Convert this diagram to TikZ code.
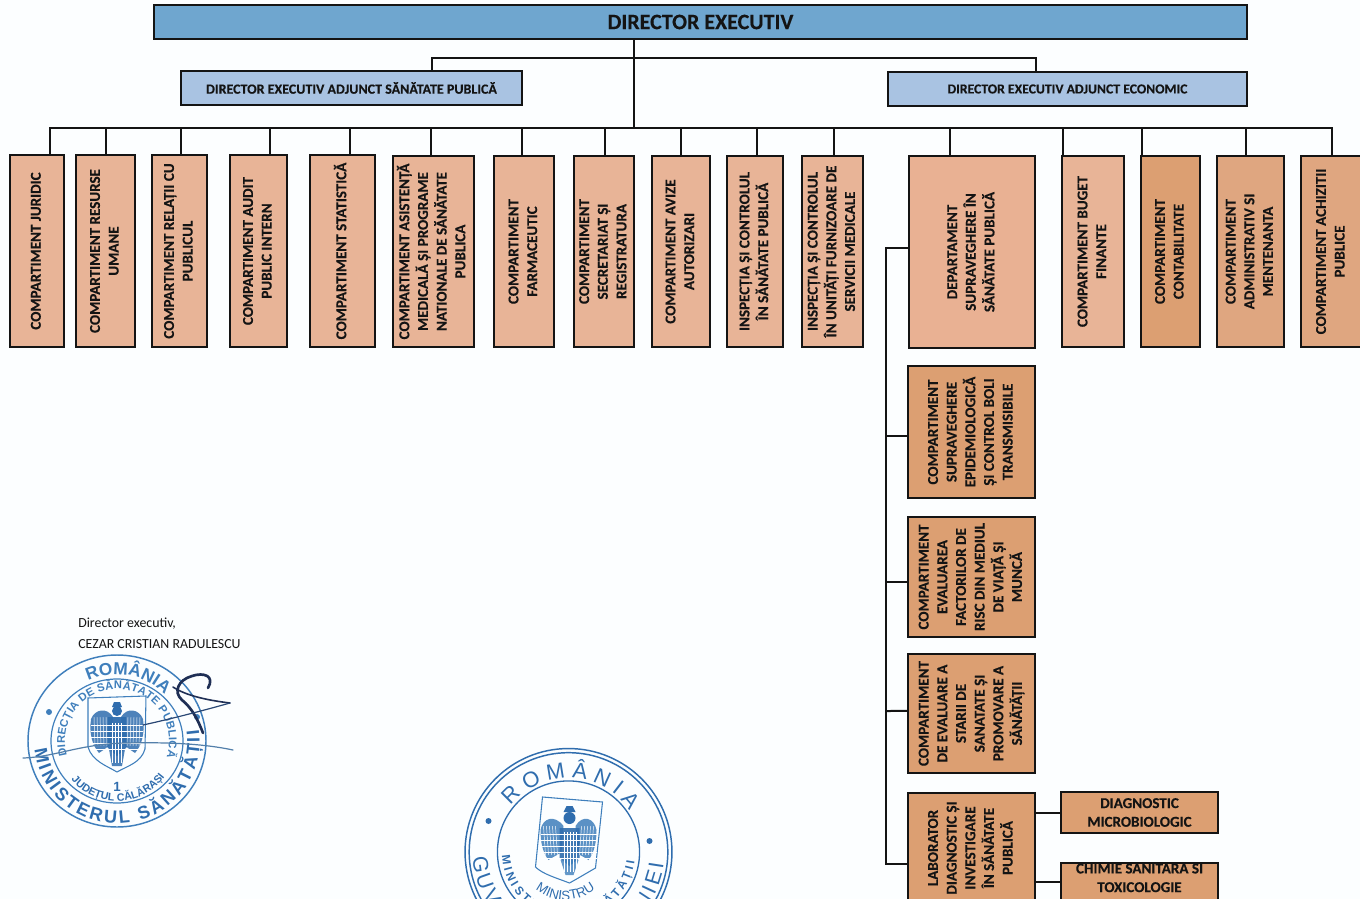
\documentclass[tikz,border=0pt]{standalone}
\usepackage{graphicx}
\usepackage{fontspec}
\setmainfont[BoldFeatures={FakeBold=0.25}]{Carlito}
\newfontfamily\stampfont{Liberation Sans}
\usetikzlibrary{decorations.text,calc}
\definecolor{topblue}{HTML}{6FA6CF}
\definecolor{adjblue}{HTML}{A9C3E2}
\definecolor{salmon}{HTML}{E8B497}
\definecolor{salmonb}{HTML}{E9B193}
\definecolor{tan}{HTML}{DC9F72}
\definecolor{tanb}{HTML}{DFA680}
\definecolor{ink}{HTML}{141414}
\definecolor{stampa}{HTML}{3F7FBC}
\definecolor{stampb}{HTML}{2F6DAE}
\definecolor{signink}{HTML}{1F2F55}
\tikzset{
  box/.style={draw=ink,line width=1.5pt,inner sep=0pt,text=ink,align=center,
    font=\fontsize{11.3}{14}\selectfont\bfseries},
  link/.style={draw=ink,line width=1.5pt},
  stamptext/.style={decorate,decoration={text along path,text align=center,text={#1}}},
  stampfit/.style={decorate,decoration={text along path,text align={fit to path},text={#1}}},
}
% name, x1, y1, x2, y2, fill, rotated text
\newcommand{\orgbox}[7]{%
  \node[box,fill=#6,minimum width={(#4-#2)*0.75pt},minimum height={(#5-#3)*0.75pt}]
    (#1) at ({(#2+#4)/2},{(#3+#5)/2})
    {\rotatebox{90}{\begin{tabular}{@{}c@{}}#7\end{tabular}}};}
\newcommand{\flatbox}[8]{%
  \node[box,fill=#6,minimum width={(#4-#2)*0.75pt},minimum height={(#5-#3)*0.75pt},#8]
    (#1) at ({(#2+#4)/2},{(#3+#5)/2}) {#7};}
\begin{document}
\begin{tikzpicture}[x=0.75pt,y=-0.75pt]
\useasboundingbox (0,0) rectangle (1360,899);
\clip (0,0) rectangle (1360,899);
\fill[white!99!cyan] (0,0) rectangle (1360,899);

% --- connectors' named points
\coordinate (tophub) at (634,58);
\coordinate (bus) at (634,127.5);
\coordinate (trunktop) at (886,248);

% --- top
\flatbox{dir}{154}{5}{1247}{39}{topblue}{DIRECTOR EXECUTIV}{font=\fontsize{16.5}{18}\selectfont\bfseries}
\flatbox{adjl}{181}{71}{522}{105}{adjblue}{DIRECTOR EXECUTIV ADJUNCT SĂNĂTATE PUBLICĂ}{font=\fontsize{10.5}{12}\selectfont\bfseries}
\flatbox{adjr}{888}{72}{1247}{106}{adjblue}{DIRECTOR EXECUTIV ADJUNCT ECONOMIC}{font=\fontsize{10.3}{12}\selectfont\bfseries}

% --- compartments
\orgbox{jur}{10}{155}{64}{347}{salmon}{COMPARTIMENT JURIDIC}
\orgbox{res}{76}{155}{135}{347}{salmon}{COMPARTIMENT RESURSE\\UMANE}
\orgbox{rel}{152}{155}{207}{347}{salmon}{COMPARTIMENT RELAȚII CU\\PUBLICUL}
\orgbox{aud}{230}{155}{287}{347}{salmon}{COMPARTIMENT AUDIT\\PUBLIC INTERN}
\orgbox{sta}{310}{155}{375}{347}{salmon}{COMPARTIMENT STATISTICĂ}
\orgbox{asi}{393}{156}{474}{347}{salmon}{COMPARTIMENT ASISTENȚĂ\\MEDICALĂ ȘI PROGRAME\\NATIONALE DE SĂNĂTATE\\PUBLICA}
\orgbox{far}{494}{156}{554}{347}{salmon}{COMPARTIMENT\\FARMACEUTIC}
\orgbox{sec}{574}{156}{634}{347}{salmon}{COMPARTIMENT\\SECRETARIAT ȘI\\REGISTRATURA}
\orgbox{avi}{652}{156}{710}{347}{salmon}{COMPARTIMENT AVIZE\\AUTORIZARI}
\orgbox{ins}{727}{156}{783}{347}{salmon}{INSPECȚIA ȘI CONTROLUL\\ÎN SĂNĂTATE PUBLICĂ}
\orgbox{inu}{802}{156}{863}{347}{salmon}{INSPECȚIA ȘI CONTROLUL\\ÎN UNITĂȚI FURNIZOARE DE\\SERVICII MEDICALE}
\orgbox{dep}{909}{156}{1035}{348}{salmonb}{DEPARTAMENT\\SUPRAVEGHERE ÎN\\SĂNĂTATE PUBLICĂ}
\orgbox{bug}{1062}{156}{1124}{347}{salmon}{COMPARTIMENT BUGET\\FINANTE}
\orgbox{con}{1141}{156}{1200}{347}{tan}{COMPARTIMENT\\CONTABILITATE}
\orgbox{adm}{1217}{156}{1284}{347}{tanb}{COMPARTIMENT\\ADMINISTRATIV SI\\MENTENANTA}
\orgbox{ach}{1301}{156}{1362}{347}{tanb}{COMPARTIMENT ACHIZITII\\PUBLICE}

% --- department children
\orgbox{epi}{908}{366}{1035}{498}{tan}{COMPARTIMENT\\SUPRAVEGHERE\\EPIDEMIOLOGICĂ\\ȘI CONTROL BOLI\\TRANSMISIBILE}
\orgbox{fac}{908}{517}{1035}{637}{tan}{COMPARTIMENT\\EVALUAREA\\FACTORILOR DE\\RISC DIN MEDIUL\\DE VIAȚĂ ȘI\\MUNCĂ}
\orgbox{sts}{908}{654}{1035}{773}{tan}{COMPARTIMENT\\DE EVALUARE A\\STARII DE\\SANATATE ȘI\\PROMOVARE A\\SĂNĂTĂȚII}
\orgbox{lab}{908}{793}{1035}{903}{tan}{LABORATOR\\DIAGNOSTIC ȘI\\INVESTIGARE\\ÎN SĂNĂTATE\\PUBLICĂ}
\flatbox{dia}{1061}{792}{1218}{833}{tan}{DIAGNOSTIC\\MICROBIOLOGIC}{font=\fontsize{11.3}{14}\selectfont\bfseries}
\flatbox{chi}{1061}{863}{1218}{905}{tan}{\raisebox{1pt}[0pt][0pt]{\begin{tabular}{@{}c@{}}CHIMIE SANITARA SI\\TOXICOLOGIE\end{tabular}}}{font=\fontsize{11.3}{14}\selectfont\bfseries}

% --- links
\draw[link] (dir.south -| tophub) -- (bus);
\draw[link] (adjl.north -| 432,0) -- (432,58) -- (1036,58) -- (adjr.north -| 1036,0);
\draw[link] ([xshift=9.75pt]jur.north) |- (bus);
\draw[link] (res.north) |- (bus);
\draw[link] ([xshift=0.75pt]rel.north) |- (bus);
\draw[link] ([xshift=8.25pt]aud.north) |- (bus);
\draw[link] ([xshift=5.6pt]sta.north) |- (bus);
\draw[link] ([xshift=-1.9pt]asi.north) |- (bus);
\draw[link] ([xshift=-1.5pt]far.north) |- (bus);
\draw[link] ([xshift=0.75pt]sec.north) |- (bus);
\draw[link] (avi.north) |- (bus);
\draw[link] ([xshift=1.5pt]ins.north) |- (bus);
\draw[link] ([xshift=1.1pt]inu.north) |- (bus);
\draw[link] ([xshift=-16.5pt]dep.north) |- (bus);
\draw[link] ([xshift=-22.5pt]bug.north) |- (bus);
\draw[link] ([xshift=-21.4pt]con.north) |- (bus);
\draw[link] ([xshift=-3.4pt]adm.north) |- (bus);
\draw[link] (ach.north) |- (bus);

\draw[link] ([yshift=3pt]dep.west) -- (trunktop) -- (trunktop |- 0,864) -- (lab.west |- 0,864);
\draw[link] ([yshift=-3pt]epi.west) -- (trunktop |- 0,436);
\draw[link] ([yshift=-3.75pt]fac.west) -- (trunktop |- 0,582);
\draw[link] ([yshift=1.9pt]sts.west) -- (trunktop |- 0,711);
\draw[link] (lab.east |- dia.west) -- (dia.west);
\draw[link] (lab.east |- 0,882) -- (chi.west |- 0,882);

% --- signature text
\node[anchor=west,inner sep=0pt,text=ink,font=\fontsize{10.4}{12}\selectfont] (sg1) at (78,624) {Director executiv,};
\node[anchor=west,inner sep=0pt,text=ink,font=\fontsize{10.4}{12}\selectfont] (sg2) at (78,644) {CEZAR CRISTIAN RADULESCU};

% --- stamp of the directorate
\begin{scope}[shift={(117,741)},x=0.75pt,y=0.75pt]
  \draw[stampa,line width=1.1pt] (0,0) circle[x radius=89,y radius=86];
  \draw[stampa,line width=0.9pt] (0,0) circle[x radius=66,y radius=62];
  % lettering
  \path[stamptext={|\stampfont\bfseries\fontsize{13}{13}\selectfont\color{stampa}|ROMÂNIA}]
    (170:50pt) arc[start angle=170,end angle=-10,radius=50pt];
  \path[stampfit={|\stampfont\bfseries\fontsize{8.4}{9}\selectfont\color{stampa}|DIRECȚIA DE SĂNĂTATE PUBLICĂ}]
    (196:39pt) arc[start angle=196,end angle=-18,radius=39pt];
  \path[stampfit={|\stampfont\bfseries\fontsize{13.5}{14}\selectfont\color{stampb}|MINISTERUL SĂNĂTĂȚII}]
    (186:62pt) arc[start angle=186,end angle=368,radius=62pt];
  \path[stamptext={|\stampfont\bfseries\fontsize{8}{9}\selectfont\color{stampb}|JUDEȚUL CĂLĂRAȘI}]
    (200:45pt) arc[start angle=200,end angle=343,radius=45pt];
  \node[text=stampb,font=\stampfont\bfseries\fontsize{10}{10}\selectfont,inner sep=0pt] (stampone) at (0,-46) {1};
  \fill[stampa] (-68,29) circle[radius=3];
  \fill[stampa] (80,24) circle[radius=3];
  % shield
  \draw[stampa,line width=0.8pt] (-29,43) -- (29,45) -- (28,-8) .. controls (24,-22) and (10,-25) .. (0,-31) .. controls (-10,-25) and (-25,-20) .. (-29,-6) -- cycle;
  % eagle
  \fill[stampb,opacity=.85] (-4,24) .. controls (-10,34) and (-22,32) .. (-26,22) .. controls (-28,8) and (-25,-4) .. (-18,-12) .. controls (-12,-8) and (-8,-5) .. (-6,-2) -- cycle;
  \fill[stampb,opacity=.85] (4,24) .. controls (10,34) and (22,32) .. (26,22) .. controls (28,8) and (25,-4) .. (18,-12) .. controls (12,-8) and (8,-5) .. (6,-2) -- cycle;
  \fill[stampb,opacity=.95] (-9,24) -- (9,24) -- (10,-6) -- (0,-15) -- (-10,-6) -- cycle;
  \fill[stampb] (0,30) circle[radius=5];
  \fill[stampb] (-5,34) -- (5,34) -- (3,39) -- (-3,39) -- cycle;
  \fill[stampb,opacity=.85] (-8,-8) -- (8,-8) -- (5,-25) -- (-5,-25) -- cycle;
  \foreach \a in {-23,-20,...,-11}{\draw[white,line width=.35pt] (\a,24) -- (\a+1,-5);}
  \foreach \a in {11,14,...,23}{\draw[white,line width=.35pt] (\a,24) -- (\a-1,-5);}
  \foreach \a in {-5,-2,...,5}{\draw[white,line width=.3pt] (\a,18) -- (\a,-22);}
  \foreach \a in {-8,-2,...,16}{\draw[white,line width=.3pt] (-26,\a) -- (26,\a);}
\end{scope}
% signature strokes
\draw[signink,line width=2pt,line cap=round] (208,688) .. controls (215,676) and (204,672) .. (192,676) .. controls (178,680) and (173,692) .. (182,700) .. controls (192,708) and (198,720) .. (203,733);
\draw[signink,line width=1.2pt,line cap=round] (173,687) .. controls (185,695) and (205,700) .. (230,703);
\draw[signink!70!stampa,line width=.9pt,line cap=round] (230,703) .. controls (205,710) and (175,718) .. (143,725);
\draw[stampa!70!gray,line width=.9pt,line cap=round] (23,758) .. controls (55,757) and (80,744) .. (125,743) .. controls (170,742) and (205,744) .. (233,750);

% --- ministry stamp
\begin{scope}[shift={(568.5,852)},x=0.75pt,y=0.75pt]
  \draw[stampb,line width=1.1pt] (0,0) circle[radius=77.6pt];
  \draw[stampb,line width=1.1pt] (0,0) circle[radius=74.5pt];
  \draw[stampb,line width=1pt] (0,0) circle[radius=53.3pt];
  \path[stampfit={|\stampfont\fontsize{16.5}{17}\selectfont\color{stampb}|ROMÂNIA}]
    (141:55.5pt) arc[start angle=141,end angle=34,radius=55.5pt];
  \path[stampfit={|\stampfont\fontsize{16}{16}\selectfont\color{stampb}|GUVERNUL ROMÂNIEI}]
    (183:72pt) arc[start angle=183,end angle=353,radius=72pt];
  \path[stampfit={|\stampfont\bfseries\fontsize{8.8}{9}\selectfont\color{stampb}|MINISTERUL SĂNĂTĂȚII}]
    (183:50pt) arc[start angle=183,end angle=352,radius=50pt];
  \path[stamptext={|\stampfont\fontsize{10}{10}\selectfont\color{stampb}|MINISTRU}]
    ([shift={(-3,0)}]220:36pt) arc[start angle=220,end angle=320,radius=36pt];
  \fill[stampb] (-80,31) circle[radius=3];
  \fill[stampb] (81,11) circle[radius=3];
  % shield
  \draw[stampa,line width=.8pt] (-26,55) -- (34,50) -- (27,-16) .. controls (20,-20) and (10,-26) .. (1,-31) .. controls (-12,-26) and (-26,-22) .. (-33,-15) -- cycle;
  % eagle
  \fill[stampa,opacity=.85] (-5,26) .. controls (-14,38) and (-26,34) .. (-28,22) .. controls (-28,10) and (-26,0) .. (-20,-8) .. controls (-14,-4) and (-9,-2) .. (-7,0) -- cycle;
  \fill[stampa,opacity=.85] (7,26) .. controls (14,38) and (26,34) .. (28,22) .. controls (28,10) and (26,0) .. (20,-8) .. controls (14,-4) and (9,-2) .. (7,0) -- cycle;
  \fill[stampb,opacity=.9] (-9,24) -- (11,24) -- (11,-6) -- (1,-14) -- (-9,-6) -- cycle;
  \fill[stampb] (1,34) circle[radius=6];
  \fill[stampb] (-5,40) -- (7,40) -- (4,46) -- (-2,46) -- cycle;
  \fill[stampa,opacity=.8] (-8,-8) -- (10,-8) -- (5,-23) -- (-3,-23) -- cycle;
  \foreach \a in {-25,-22,...,-11}{\draw[white,line width=.35pt] (\a,26) -- (\a+2,-3);}
  \foreach \a in {13,16,...,25}{\draw[white,line width=.35pt] (\a,26) -- (\a-2,-3);}
  \foreach \a in {-4,-1,...,8}{\draw[white,line width=.3pt] (\a,20) -- (\a,-20);}
  \foreach \a in {-6,0,...,18}{\draw[white,line width=.3pt] (-28,\a) -- (28,\a);}
\end{scope}
\end{tikzpicture}
\end{document}
